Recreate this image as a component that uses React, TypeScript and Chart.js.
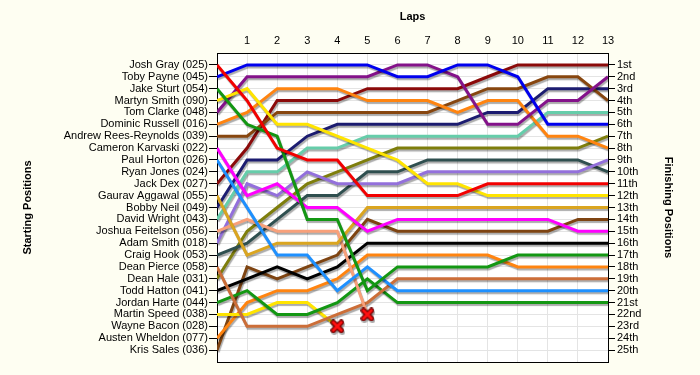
import React, { useEffect, useRef } from "react";
import { Chart, registerables } from "chart.js";

Chart.register(...registerables);

// ---------- data ----------
const laps = [0, 1, 2, 3, 4, 5, 6, 7, 8, 9, 10, 11, 12, 13];

const startingNames = [
  "Josh Gray (025)",
  "Toby Payne (045)",
  "Jake Sturt (054)",
  "Martyn Smith (090)",
  "Tom Clarke (048)",
  "Dominic Russell (016)",
  "Andrew Rees-Reynolds (039)",
  "Cameron Karvaski (022)",
  "Paul Horton (026)",
  "Ryan Jones (024)",
  "Jack Dex (027)",
  "Gaurav Aggawal (055)",
  "Bobby Neil (049)",
  "David Wright (043)",
  "Joshua Feitelson (056)",
  "Adam Smith (018)",
  "Craig Hook (053)",
  "Dean Pierce (058)",
  "Dean Hale (031)",
  "Todd Hatton (041)",
  "Jordan Harte (044)",
  "Martin Speed (038)",
  "Wayne Bacon (028)",
  "Austen Wheldon (077)",
  "Kris Sales (036)",
];

const finishLabels = [
  "1st", "2nd", "3rd", "4th", "5th", "6th", "7th", "8th", "9th", "10th",
  "11th", "12th", "13th", "14th", "15th", "16th", "17th", "18th", "19th", "20th",
  "21st", "22nd", "23rd", "24th", "25th",
];

// race position at the end of each lap (lap 0 = grid)
const joshGray = [1, 4, 8, 9, 9, 12, 12, 12, 12, 11, 11, 11, 11, 11];
const tobyPayne = [2, 1, 1, 1, 1, 1, 2, 2, 1, 1, 2, 6, 6, 6];
const jakeSturt = [3, 6, 7, 14, 14, 20, 18, 18, 18, 18, 17, 17, 17, 17];
const martynSmith = [4, 3, 6, 6, 7, 8, 9, 11, 11, 12, 12, 12, 12, 12];
const tomClarke = [5, 2, 2, 2, 2, 2, 1, 1, 2, 6, 6, 4, 4, 2];
const dominicRussell = [6, 5, 3, 3, 3, 4, 4, 4, 5, 4, 4, 7, 7, 8];
const andrewReesReynolds = [7, 7, 5, 5, 5, 5, 5, 5, 4, 3, 3, 2, 2, 4];
const cameronKarvaski = [8, 12, 11, 13, 13, 15, 14, 14, 14, 14, 14, 14, 15, 15];
const paulHorton = [9, 13, 17, 17, 20, 18, 20, 20, 20, 20, 20, 20, 20, 20];
const ryanJones = [10];
const jackDex = [11, 8, 4, 4, 4, 3, 3, 3, 3, 2, 1, 1, 1, 1];
const gauravAggawal = [12, 17, 16, 16, 16, 13, 13, 13, 13, 13, 13, 13, 13, 13];
const bobbyNeil = [13, 9, 9, 7, 6, 6, 6, 6, 6, 5, 5, 3, 3, 3];
const davidWright = [14, 10, 10, 8, 8, 7, 7, 7, 7, 7, 7, 5, 5, 5];
const joshuaFeitelson = [15, 14, 15, 15, 15, 22];
const adamSmith = [16, 11, 12, 10, 11, 11, 11, 10, 10, 10, 10, 10, 10, 9];
const craigHook = [17, 16, 14, 12, 12, 10, 10, 9, 9, 9, 9, 9, 9, 10];
const deanPierce = [18, 23, 23, 23, 22, 21, 19, 19, 19, 19, 19, 19, 19, 19];
const deanHale = [19, 15, 13, 11, 10, 9, 8, 8, 8, 8, 8, 8, 8, 7];
const toddHatton = [20, 19, 18, 19, 18, 16, 16, 16, 16, 16, 16, 16, 16, 16];
const jordanHarte = [21, 20, 22, 22, 21, 19, 21, 21, 21, 21, 21, 21, 21, 21];
const martinSpeed = [22, 22, 21, 21, 23];
const wayneBacon = [23];
const austenWheldon = [24, 21, 20, 20, 19, 17, 17, 17, 17, 17, 18, 18, 18, 18];
const krisSales = [25, 18, 19, 18, 17, 14, 15, 15, 15, 15, 15, 15, 14, 14];

const driverPositions = [
  joshGray, tobyPayne, jakeSturt, martynSmith, tomClarke, dominicRussell,
  andrewReesReynolds, cameronKarvaski, paulHorton, ryanJones, jackDex,
  gauravAggawal, bobbyNeil, davidWright, joshuaFeitelson, adamSmith, craigHook,
  deanPierce, deanHale, toddHatton, jordanHarte, martinSpeed, wayneBacon,
  austenWheldon, krisSales,
];

const crashedDrivers = ["Joshua Feitelson (056)", "Martin Speed (038)"];

const driverColors = [
  "#F20000", "#0000EE", "#139713", "#FFE400", "#84128A", "#FF8410",
  "#87460F", "#FF00FF", "#1E90FF", "#808080", "#8B0A0A", "#DAA520",
  "#1C1C70", "#66CDAA", "#F8A07A", "#9370DB", "#2F4F4F", "#CC6E38",
  "#7E7E0C", "#000000", "#139713", "#FFE400", "#808080", "#FF8410",
  "#7E4412",
];

// ---------- styling ----------
const FONT = "'Liberation Sans', Arial, sans-serif";
const PAGE_BG = "#FEFEF2";
const PLOT_BG = "#FFFFFF";
const GRID = "#E4E4E4";

function makeCrossImage(): HTMLCanvasElement {
  const c = document.createElement("canvas");
  c.width = 14;
  c.height = 14;
  const g = c.getContext("2d")!;
  g.lineCap = "round";
  const draw = (w: number, col: string) => {
    g.strokeStyle = col;
    g.lineWidth = w;
    g.beginPath();
    g.moveTo(3, 3);
    g.lineTo(11, 11);
    g.moveTo(11, 3);
    g.lineTo(3, 11);
    g.stroke();
  };
  draw(5.5, "#700000");
  draw(3, "#FF1010");
  return c;
}

const backgroundPlugin = {
  id: "lapBackground",
  beforeDraw(chart: any) {
    const { ctx, chartArea } = chart;
    ctx.save();
    ctx.fillStyle = PAGE_BG;
    ctx.fillRect(0, 0, chart.width, chart.height);
    ctx.fillStyle = PLOT_BG;
    ctx.fillRect(chartArea.left, chartArea.top, chartArea.right - chartArea.left, chartArea.bottom - chartArea.top);
    ctx.restore();
  },
};

const shadowPlugin = {
  id: "lineShadow",
  beforeDatasetsDraw(chart: any) {
    const ctx = chart.ctx;
    ctx.save();
    ctx.shadowColor = "rgba(0,0,0,0.33)";
    ctx.shadowOffsetX = 1;
    ctx.shadowOffsetY = 2;
    ctx.shadowBlur = 1;
  },
  afterDatasetsDraw(chart: any) {
    chart.ctx.restore();
  },
};

export default function App() {
  const canvasRef = useRef<HTMLCanvasElement | null>(null);

  useEffect(() => {
    if (!canvasRef.current) return;
    document.body.style.background = PAGE_BG;
    const cross = makeCrossImage();

    const datasets = driverPositions.map((pos, i) => {
      const crashed = crashedDrivers.includes(startingNames[i]);
      const last = pos.length - 1;
      return {
        label: startingNames[i],
        data: pos.map((p, lap) => ({ x: laps[lap], y: p })),
        borderColor: driverColors[i],
        backgroundColor: driverColors[i],
        borderWidth: 3,
        tension: 0,
        fill: false,
        pointRadius: (ctx: any) => (crashed && ctx.dataIndex === last ? 7 : 0),
        pointStyle: (ctx: any) => (crashed && ctx.dataIndex === last ? cross : "circle"),
        pointHoverRadius: 0,
      };
    });

    const tickFont = { family: FONT, size: 11 };
    const titleFont = { family: FONT, size: 11, weight: "bold" as const };

    const chart = new Chart(canvasRef.current, {
      type: "line",
      data: { datasets },
      plugins: [backgroundPlugin, shadowPlugin],
      options: {
        animation: false,
        responsive: false,
        events: [],
        layout: { padding: 0 },
        plugins: { legend: { display: false }, tooltip: { enabled: false } },
        scales: {
          x: {
            type: "linear",
            position: "top",
            min: 0,
            max: 13,
            afterBuildTicks: (s: any) => {
              s.ticks = laps.map((v) => ({ value: v }));
            },
            ticks: {
              callback: (v: any) => (v === 0 ? "" : String(v)),
              font: tickFont,
              color: "#000",
              padding: 5,
              maxRotation: 0,
              autoSkip: false,
            },
            grid: { color: GRID, drawTicks: false, lineWidth: 1 },
            border: { color: "#000", width: 1 },
            title: { display: true, text: "Laps", font: titleFont, color: "#000", padding: { top: 10, bottom: 0 } },
            afterFit: (s: any) => {
              s.height = 53;
            },
          },
          xBottom: {
            type: "linear",
            position: "bottom",
            min: 0,
            max: 13,
            ticks: { display: false },
            grid: { drawOnChartArea: false, drawTicks: false },
            border: { color: "#000", width: 1 },
            afterFit: (s: any) => {
              s.height = 13;
            },
          },
          y: {
            type: "linear",
            position: "left",
            reverse: true,
            min: 0,
            max: 26,
            afterBuildTicks: (s: any) => {
              s.ticks = startingNames.map((_, i) => ({ value: i + 1 }));
            },
            ticks: {
              callback: (v: any) => startingNames[v - 1] ?? "",
              font: tickFont,
              color: "#000",
              padding: 1,
              autoSkip: false,
            },
            grid: { color: GRID, tickColor: "#000", tickLength: 8, lineWidth: 1 },
            border: { color: "#000", width: 1 },
            title: {
              display: true,
              text: "Starting Positions",
              font: titleFont,
              color: "#000",
              padding: { top: 21, bottom: 0 },
            },
            afterFit: (s: any) => {
              s.width = 217;
            },
          },
          yRight: {
            type: "linear",
            position: "right",
            reverse: true,
            min: 0,
            max: 26,
            afterBuildTicks: (s: any) => {
              s.ticks = finishLabels.map((_, i) => ({ value: i + 1 }));
            },
            ticks: {
              callback: (v: any) => finishLabels[v - 1] ?? "",
              font: tickFont,
              color: "#000",
              padding: 2,
              autoSkip: false,
            },
            grid: { drawOnChartArea: false, tickColor: "#000", tickLength: 7 },
            border: { color: "#000", width: 1 },
            title: {
              display: true,
              text: "Finishing Positions",
              font: titleFont,
              color: "#000",
              padding: { top: 25, bottom: 0 },
            },
            afterFit: (s: any) => {
              s.width = 92;
            },
          },
        },
      },
    } as any);

    return () => chart.destroy();
  }, []);

  return (
    <div style={{ position: "absolute", left: 0, top: 0, width: 700, height: 375, background: PAGE_BG }}>
      <canvas ref={canvasRef} width={700} height={375} style={{ display: "block", width: 700, height: 375 }} />
    </div>
  );
}
